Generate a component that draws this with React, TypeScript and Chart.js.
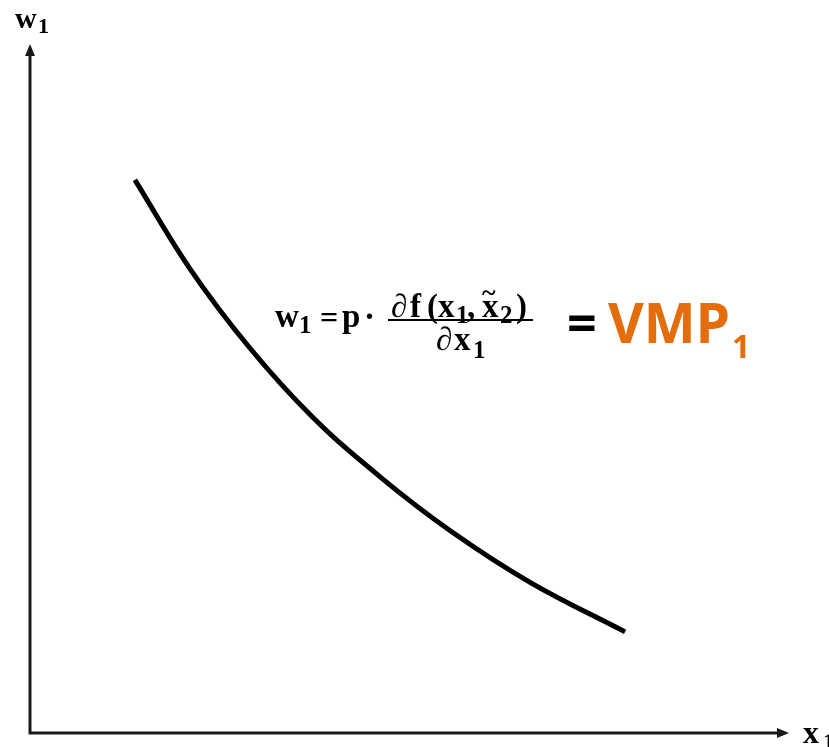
import { useEffect, useRef } from "react";
import { Chart, registerables } from "chart.js";

Chart.register(...registerables);

// Curve sample points (abstract units, axes span 0..10)
const curveX = [1.38, 2.11, 2.89, 3.72, 4.61, 5.53, 6.58, 7.83];
const curveY = [8.04, 6.74, 5.6, 4.59, 3.72, 2.94, 2.19, 1.47];

const xLabel = "x";
const yLabel = "w";
const labelSub = "1";
const vmpText = "VMP";
const vmpSub = "1";

const SERIF = "'Liberation Serif', 'Times New Roman', serif";
const SANS = "'Open Sans', 'Liberation Sans', sans-serif";

function txt(
  ctx: CanvasRenderingContext2D,
  s: string,
  x: number,
  y: number,
  size: number,
  family: string,
  color = "#000"
) {
  ctx.font = `bold ${size}px ${family}`;
  ctx.fillStyle = color;
  ctx.textAlign = "left";
  ctx.textBaseline = "alphabetic";
  ctx.fillText(s, x, y);
}

const decorPlugin = {
  id: "decor",
  afterDraw(chart: any) {
    const ctx = chart.ctx as CanvasRenderingContext2D;
    const xs = chart.scales.x;
    const ys = chart.scales.y;
    const ox = xs.getPixelForValue(0);
    const oy = ys.getPixelForValue(0);
    const xTip = xs.getPixelForValue(10) - 1;
    const yTip = ys.getPixelForValue(10) - 1;
    ctx.save();
    ctx.strokeStyle = "#1a1a1a";
    ctx.fillStyle = "#1a1a1a";
    ctx.lineWidth = 3;
    ctx.beginPath();
    ctx.moveTo(ox, oy);
    ctx.lineTo(ox, yTip + 8);
    ctx.moveTo(ox - 1.5, oy);
    ctx.lineTo(xTip - 8, oy);
    ctx.stroke();
    // arrowheads
    ctx.beginPath();
    ctx.moveTo(ox, yTip);
    ctx.lineTo(ox - 5, yTip + 12);
    ctx.lineTo(ox + 5, yTip + 12);
    ctx.closePath();
    ctx.fill();
    ctx.beginPath();
    ctx.moveTo(xTip, oy);
    ctx.lineTo(xTip - 12, oy - 5);
    ctx.lineTo(xTip - 12, oy + 5);
    ctx.closePath();
    ctx.fill();

    // axis labels
    txt(ctx, yLabel, 15, 28, 30, SERIF);
    txt(ctx, labelSub, 38, 33, 22, SERIF);
    txt(ctx, xLabel, 803, 743, 32, SERIF);
    txt(ctx, labelSub, 823, 749, 24, SERIF);

    // formula
    const M = 33;
    const S = 25;
    txt(ctx, "w", 275, 327, M, SERIF);
    txt(ctx, "1", 299, 333, S, SERIF);
    txt(ctx, "=", 320, 328, 32, SERIF);
    txt(ctx, "p", 342, 327, M, SERIF);
    txt(ctx, "\u00B7", 364, 327, M, SERIF);
    // numerator
    txt(ctx, "\u2202", 391, 317, M, SERIF);
    txt(ctx, "f", 410, 317, M, SERIF);
    txt(ctx, "(", 427, 317, M, SERIF);
    txt(ctx, "x", 438, 317, M, SERIF);
    txt(ctx, "1", 456, 323, S, SERIF);
    txt(ctx, ",", 467, 317, M, SERIF);
    txt(ctx, "x", 482, 317, M, SERIF);
    txt(ctx, "~", 482, 301, 26, SERIF);
    txt(ctx, "2", 500, 323, S, SERIF);
    txt(ctx, ")", 516, 317, M, SERIF);
    // fraction bar
    ctx.fillStyle = "#000";
    ctx.fillRect(388, 319, 145, 2);
    // denominator
    txt(ctx, "\u2202", 436, 350, M, SERIF);
    txt(ctx, "x", 454, 350, M, SERIF);
    txt(ctx, "1", 473, 358, S, SERIF);

    // = VMP1
    txt(ctx, "=", 567, 342, 52, SANS, "#000");
    txt(ctx, vmpText, 608, 343, 55, SANS, "#E46C0A");
    txt(ctx, vmpSub, 732, 358, 32, SANS, "#E46C0A");
    ctx.restore();
  },
};

export default function App() {
  const ref = useRef<HTMLCanvasElement | null>(null);
  useEffect(() => {
    if (!ref.current) return;
    const chart = new Chart(ref.current, {
      type: "line",
      data: {
        datasets: [
          {
            data: curveX.map((x, i) => ({ x, y: curveY[i] })),
            borderColor: "#000",
            borderWidth: 5,
            pointRadius: 0,
            tension: 0.4,
            fill: false,
          },
        ],
      },
      options: {
        responsive: false,
        animation: false,
        events: [],
        layout: { padding: { left: 30, right: 39, top: 45, bottom: 14 } },
        scales: {
          x: { type: "linear", min: 0, max: 10, display: false },
          y: { type: "linear", min: 0, max: 10, display: false },
        },
        plugins: { legend: { display: false }, tooltip: { enabled: false } },
      },
      plugins: [decorPlugin],
    } as any);
    return () => chart.destroy();
  }, []);
  return (
    <div style={{ position: "absolute", left: 0, top: 0, width: 829, height: 747, background: "#fff" }}>
      <canvas ref={ref} width={829} height={747} style={{ display: "block" }} />
    </div>
  );
}
